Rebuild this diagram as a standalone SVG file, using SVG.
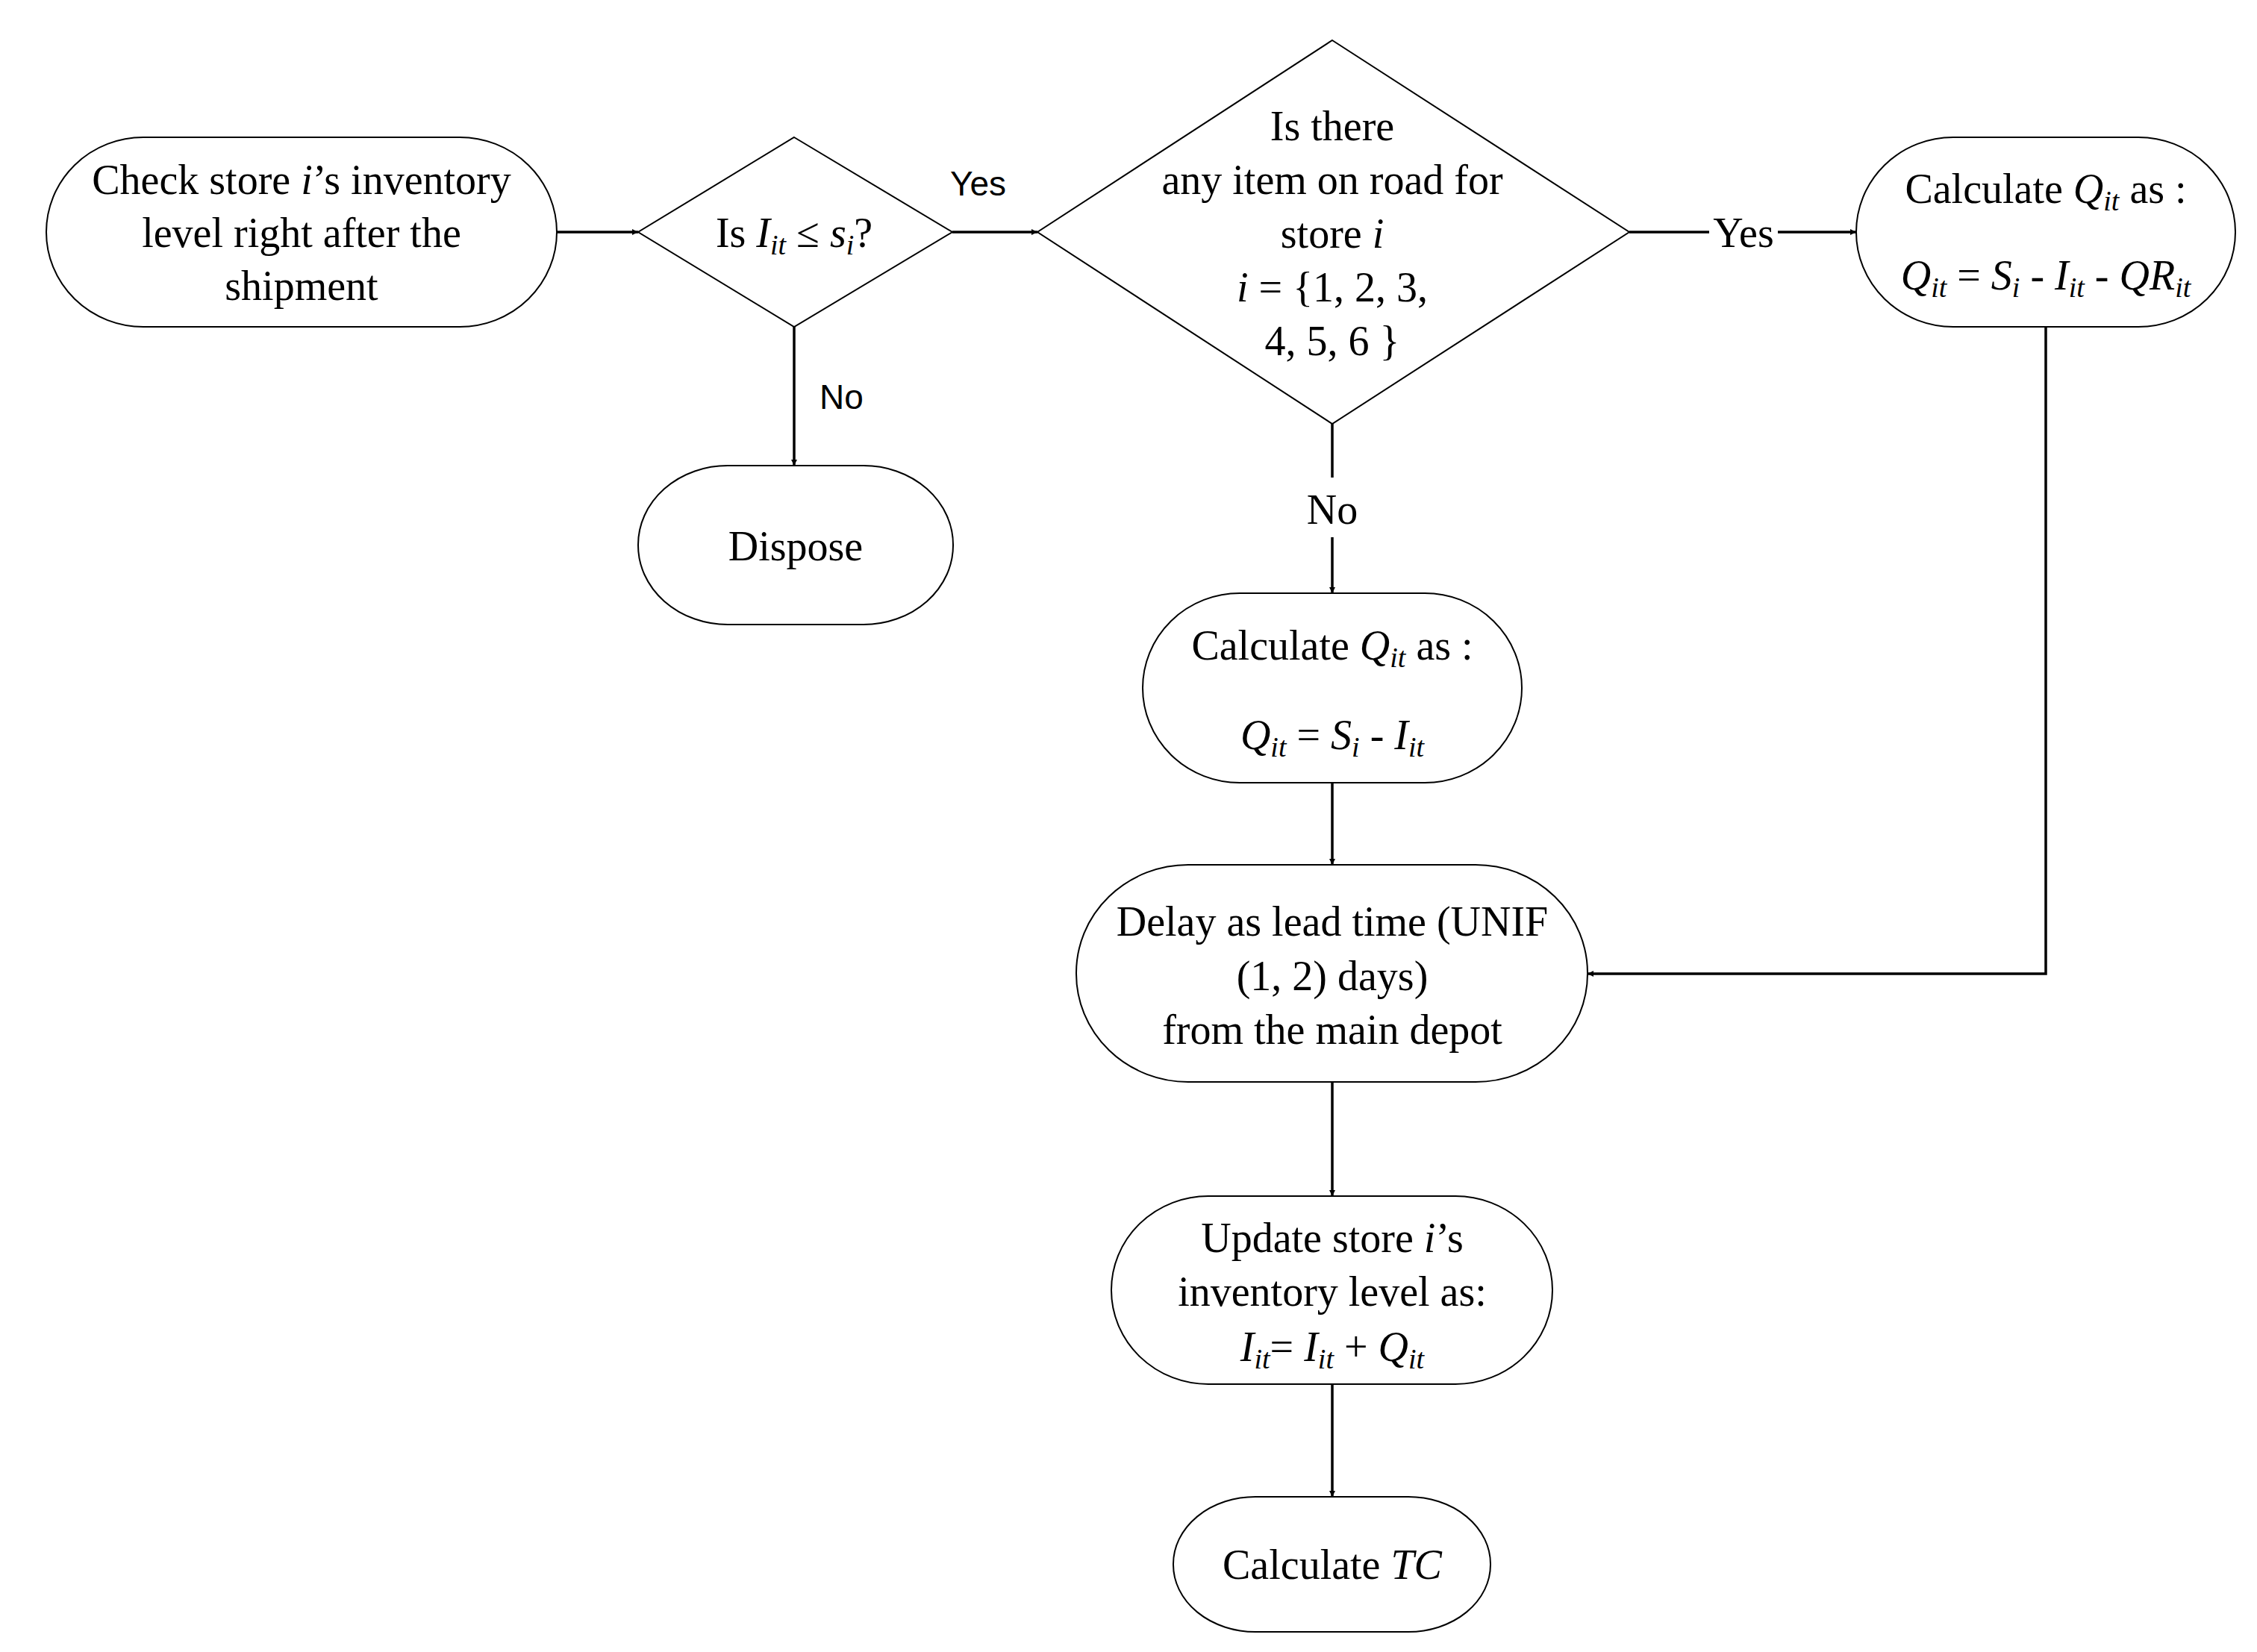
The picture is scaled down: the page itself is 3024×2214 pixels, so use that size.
<svg xmlns="http://www.w3.org/2000/svg" width="3024" height="2214" viewBox="0 0 3024 2214">
<style>
.n{fill:#fff;stroke:#000;stroke-width:2}
.t{font-family:"Liberation Serif",serif;font-size:56px;text-anchor:middle;fill:#000}
.s{font-family:"Liberation Sans",sans-serif;font-size:46px;fill:#000}
.i{font-style:italic}
.b{font-size:38px}
.c{fill:none;stroke:#000;stroke-width:3.5}
</style>
<defs><marker id="a" viewBox="0 0 10 10" refX="10" refY="5" markerWidth="8" markerHeight="8" markerUnits="userSpaceOnUse" orient="auto"><path d="M0,0L10,5L0,10z"/></marker></defs>
<rect width="3024" height="2214" fill="#fff"/>
<g id="connectors">
<path class="c" d="M746,311H855" marker-end="url(#a)" style="marker-end:url(#a)"/>
<path class="c" d="M1276,311H1390" marker-end="url(#a)"/>
<path class="c" d="M1064,438V624" marker-end="url(#a)"/>
<path class="c" d="M2183,311H2290M2382,311H2487" marker-end="url(#a)"/>
<path class="c" d="M1785,568V640M1785,720V795" marker-end="url(#a)"/>
<path class="c" d="M2741,438V1305H2127" marker-end="url(#a)"/>
<path class="c" d="M1785,1049V1159" marker-end="url(#a)"/>
<path class="c" d="M1785,1450V1603" marker-end="url(#a)"/>
<path class="c" d="M1785,1855V2006" marker-end="url(#a)"/>
<text class="s" x="1273" y="262">Yes</text>
<text class="s" x="1098" y="548">No</text>
<text class="t" x="2336" y="331">Yes</text>
<text class="t" x="1785" y="702">No</text>
</g>
<g id="check"><rect class="n" x="62" y="184" width="684" height="254" rx="130" ry="127"/>
<text class="t" x="404" y="260">Check store <tspan class="i">i</tspan>’s inventory</text>
<text class="t" x="404" y="331">level right after the</text>
<text class="t" x="404" y="402">shipment</text></g>
<g id="d1"><path class="n" d="M1064,184L1276,311L1064,438L855,311Z"/>
<text class="t" x="1064" y="331">Is <tspan class="i">I<tspan class="b" dy="10">it</tspan></tspan><tspan dy="-10"> ≤ </tspan><tspan class="i">s<tspan class="b" dy="10">i</tspan></tspan><tspan dy="-10">?</tspan></text></g>
<g id="d2"><path class="n" d="M1785,54L2183,311L1785,568L1390,311Z"/>
<text class="t" x="1785" y="188">Is there</text>
<text class="t" x="1785" y="260">any item on road for</text>
<text class="t" x="1785" y="332">store <tspan class="i">i</tspan></text>
<text class="t" x="1785" y="404"><tspan class="i">i</tspan> = {1, 2, 3,</text>
<text class="t" x="1785" y="476">4, 5, 6 }</text></g>
<g id="calcR"><rect class="n" x="2487" y="184" width="508" height="254" rx="130" ry="127"/>
<text class="t" x="2741" y="272">Calculate <tspan class="i">Q<tspan class="b" dy="10">it</tspan></tspan><tspan dy="-10"> as :</tspan></text>
<text class="t" x="2741" y="388"><tspan class="i">Q<tspan class="b" dy="10">it</tspan></tspan><tspan dy="-10"> = </tspan><tspan class="i">S<tspan class="b" dy="10">i</tspan></tspan><tspan dy="-10"> - </tspan><tspan class="i">I<tspan class="b" dy="10">it</tspan></tspan><tspan dy="-10"> - </tspan><tspan class="i">QR<tspan class="b" dy="10">it</tspan></tspan></text></g>
<g id="dispose"><rect class="n" x="855" y="624" width="422" height="213" rx="120" ry="106"/>
<text class="t" x="1066" y="751">Dispose</text></g>
<g id="calcM"><rect class="n" x="1531" y="795" width="508" height="254" rx="130" ry="127"/>
<text class="t" x="1785" y="884">Calculate <tspan class="i">Q<tspan class="b" dy="10">it</tspan></tspan><tspan dy="-10"> as :</tspan></text>
<text class="t" x="1785" y="1004"><tspan class="i">Q<tspan class="b" dy="10">it</tspan></tspan><tspan dy="-10"> = </tspan><tspan class="i">S<tspan class="b" dy="10">i</tspan></tspan><tspan dy="-10"> - </tspan><tspan class="i">I<tspan class="b" dy="10">it</tspan></tspan></text></g>
<g id="delay"><rect class="n" x="1442" y="1159" width="685" height="291" rx="150" ry="145"/>
<text class="t" x="1785" y="1254">Delay as lead time (UNIF</text>
<text class="t" x="1785" y="1327">(1, 2) days)</text>
<text class="t" x="1785" y="1399">from the main depot</text></g>
<g id="update"><rect class="n" x="1489" y="1603" width="591" height="252" rx="130" ry="126"/>
<text class="t" x="1785" y="1678">Update store <tspan class="i">i</tspan>’s</text>
<text class="t" x="1785" y="1750">inventory level as:</text>
<text class="t" x="1785" y="1824"><tspan class="i">I<tspan class="b" dy="10">it</tspan></tspan><tspan dy="-10">= </tspan><tspan class="i">I<tspan class="b" dy="10">it</tspan></tspan><tspan dy="-10"> + </tspan><tspan class="i">Q<tspan class="b" dy="10">it</tspan></tspan></text></g>
<g id="tc"><rect class="n" x="1572" y="2006" width="425" height="181" rx="110" ry="90"/>
<text class="t" x="1785" y="2116">Calculate <tspan class="i">TC</tspan></text></g>
</svg>
